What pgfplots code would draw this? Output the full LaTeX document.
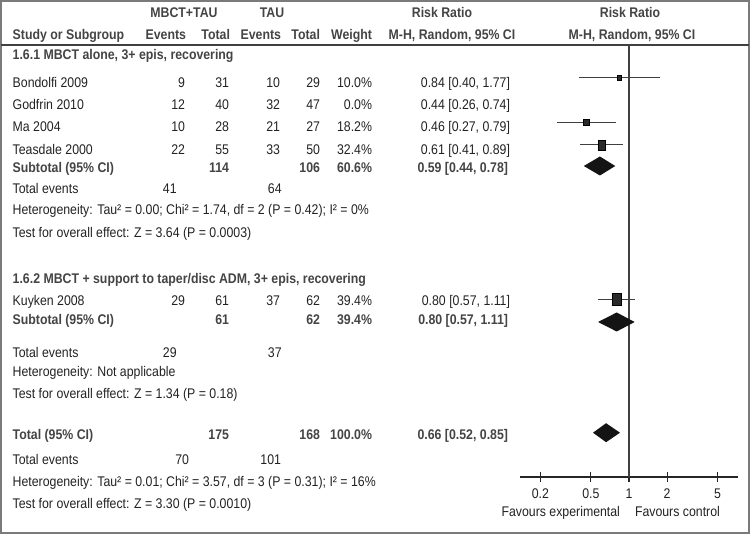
\documentclass[border=0pt]{standalone}
\usepackage{pgfplots}
\pgfplotsset{compat=1.18}
\usepackage{fontspec}
\setmainfont[FakeStretch=0.88]{Liberation Sans}
\definecolor{txt}{HTML}{222222}
\definecolor{btxt}{HTML}{444444}
\definecolor{mk}{HTML}{2A2A2A}
\definecolor{frame}{HTML}{7A7A7A}
\newcommand{\fs}{\fontsize{14pt}{16pt}\selectfont}
\newcommand{\TL}[3]{\node[anchor=base west] at (#1,#2) {#3};}
\newcommand{\TR}[3]{\node[anchor=base east] at (#1,#2) {#3};}
\newcommand{\TC}[3]{\node[anchor=base] at (#1,#2) {#3};}
\newcommand{\BL}[3]{\node[anchor=base west,text=btxt,font=\fs\bfseries] at (#1,#2) {#3};}
\newcommand{\BR}[3]{\node[anchor=base east,text=btxt,font=\fs\bfseries] at (#1,#2) {#3};}
\newcommand{\BC}[3]{\node[anchor=base,text=btxt,font=\fs\bfseries] at (#1,#2) {#3};}
\begin{document}
\fs
\begin{tikzpicture}[x=1pt,y=-1pt, every node/.style={inner sep=0pt, outer sep=0pt, text=txt, font=\fs}]
\path (0,0) rectangle (750,534);
\draw[frame, line width=2pt] (1,1) rectangle (749,533);
\draw[black!75, line width=1.2pt] (1,45) -- (749,45);
% headers
\BC{184}{18}{MBCT+TAU}
\BC{272}{18}{TAU}
\BC{442}{18}{Risk Ratio}
\BC{630}{18}{Risk Ratio}
\BL{12.7}{40}{Study or Subgroup}
\BR{186}{40}{Events}
\BR{230}{40}{Total}
\BR{281}{40}{Events}
\BR{320}{40}{Total}
\BR{372}{40}{Weight}
\BC{452}{40}{M-H, Random, 95\% CI}
\BC{632}{40}{M-H, Random, 95\% CI}
% subgroup 1
\BL{12.7}{60}{1.6.1 MBCT alone, 3+ epis, recovering}
\TL{12.7}{88}{Bondolfi 2009}\TR{185}{88}{9}\TR{229}{88}{31}\TR{280}{88}{10}\TR{320}{88}{29}\TR{372}{88}{10.0\%}\TR{510}{88}{0.84 [0.40, 1.77]}
\TL{12.7}{110}{Godfrin 2010}\TR{185}{110}{12}\TR{229}{110}{40}\TR{280}{110}{32}\TR{320}{110}{47}\TR{372}{110}{0.0\%}\TR{510}{110}{0.44 [0.26, 0.74]}
\TL{12.7}{132}{Ma 2004}\TR{185}{132}{10}\TR{229}{132}{28}\TR{280}{132}{21}\TR{320}{132}{27}\TR{372}{132}{18.2\%}\TR{510}{132}{0.46 [0.27, 0.79]}
\TL{12.7}{155}{Teasdale 2000}\TR{185}{155}{22}\TR{229}{155}{55}\TR{280}{155}{33}\TR{320}{155}{50}\TR{372}{155}{32.4\%}\TR{510}{155}{0.61 [0.41, 0.89]}
\BL{12.7}{173}{Subtotal (95\% CI)}\BR{229}{173}{114}\BR{320}{173}{106}\BR{372}{173}{60.6\%}\BR{508}{173}{0.59 [0.44, 0.78]}
\TL{12.7}{194}{Total events}\TR{176.7}{194}{41}\TR{281.7}{194}{64}
\TL{12.7}{215}{Heterogeneity: Tau² = 0.00; Chi² = 1.74, df = 2 (P = 0.42); I² = 0\%}
\TL{12.7}{238}{Test for overall effect: Z = 3.64 (P = 0.0003)}
% subgroup 2
\BL{12.7}{284}{1.6.2 MBCT + support to taper/disc ADM, 3+ epis, recovering}
\TL{12.7}{306}{Kuyken 2008}\TR{185}{306}{29}\TR{229}{306}{61}\TR{280}{306}{37}\TR{320}{306}{62}\TR{372}{306}{39.4\%}\TR{510}{306}{0.80 [0.57, 1.11]}
\BL{12.7}{325}{Subtotal (95\% CI)}\BR{229}{325}{61}\BR{320}{325}{62}\BR{372}{325}{39.4\%}\BR{508}{325}{0.80 [0.57, 1.11]}
\TL{12.7}{358}{Total events}\TR{176.7}{358}{29}\TR{281.7}{358}{37}
\TL{12.7}{377}{Heterogeneity: Not applicable}
\TL{12.7}{399}{Test for overall effect: Z = 1.34 (P = 0.18)}
% total
\BL{12.7}{440}{Total (95\% CI)}\BR{229}{440}{175}\BR{320}{440}{168}\BR{372}{440}{100.0\%}\BR{508}{440}{0.66 [0.52, 0.85]}
\TL{12.7}{465}{Total events}\TR{189}{465}{70}\TR{281}{465}{101}
\TL{12.7}{486}{Heterogeneity: Tau² = 0.01; Chi² = 3.57, df = 3 (P = 0.31); I² = 16\%}
\TL{12.7}{508}{Test for overall effect: Z = 3.30 (P = 0.0010)}
% favours
\TR{620}{516}{Favours experimental}
\TL{635}{516}{Favours control}
\begin{axis}[at={(520pt,-477pt)}, anchor=south west, scale only axis,
  width=218pt, height=432pt, xmode=log, xmin=0.138, xmax=7.26,
  ymin=-477, ymax=-45, axis x line=bottom, axis y line=none,
  x axis line style={-, black!85, line width=1.1pt},
  xtick={0.2,0.5,1,2,5}, xticklabels={0.2,0.5,1,2,5}, minor xtick={},
  xtick align=center, major tick length=10pt,
  tick style={black!85, line width=1.1pt},
  xticklabel style={anchor=base, yshift=-16.5pt, inner sep=0pt, text=txt, font=\fs},
  clip=false]
\addplot[black!75, line width=1.1pt] coordinates {(1,-45) (1,-477)};
% confidence intervals
\addplot[black!75, line width=1pt] coordinates {(0.40,-78) (1.77,-78)};
\addplot[black!75, line width=1pt] coordinates {(0.27,-122.3) (0.79,-122.3)};
\addplot[black!75, line width=1pt] coordinates {(0.41,-145) (0.89,-145)};
\addplot[black!75, line width=1pt] coordinates {(0.57,-299.3) (1.11,-299.3)};
% study squares
\addplot[only marks, mark=square*, mark size=2pt, mark options={fill=mk, draw=none, yscale=1.2}] coordinates {(0.84,-78)};
\addplot[only marks, mark=square*, mark size=2.65pt, mark options={fill=mk, draw=none, yscale=1.25}] coordinates {(0.46,-122.3)};
\addplot[only marks, mark=square*, mark size=3.5pt, mark options={fill=mk, draw=none, yscale=1.4}] coordinates {(0.61,-145)};
\addplot[only marks, mark=square*, mark size=4.15pt, mark options={fill=mk, draw=none, yscale=1.45}] coordinates {(0.80,-299.3)};
% diamonds
\addplot[fill=black!92, draw=none] coordinates {(0.44,-166) (0.59,-156.5) (0.78,-166) (0.59,-175.5) (0.44,-166)};
\addplot[fill=black!92, draw=none] coordinates {(0.57,-322) (0.80,-312.5) (1.11,-322) (0.80,-331.5) (0.57,-322)};
\addplot[fill=black!92, draw=none] coordinates {(0.52,-432.7) (0.66,-423.2) (0.85,-432.7) (0.66,-442.2) (0.52,-432.7)};
\end{axis}
\end{tikzpicture}
\end{document}
